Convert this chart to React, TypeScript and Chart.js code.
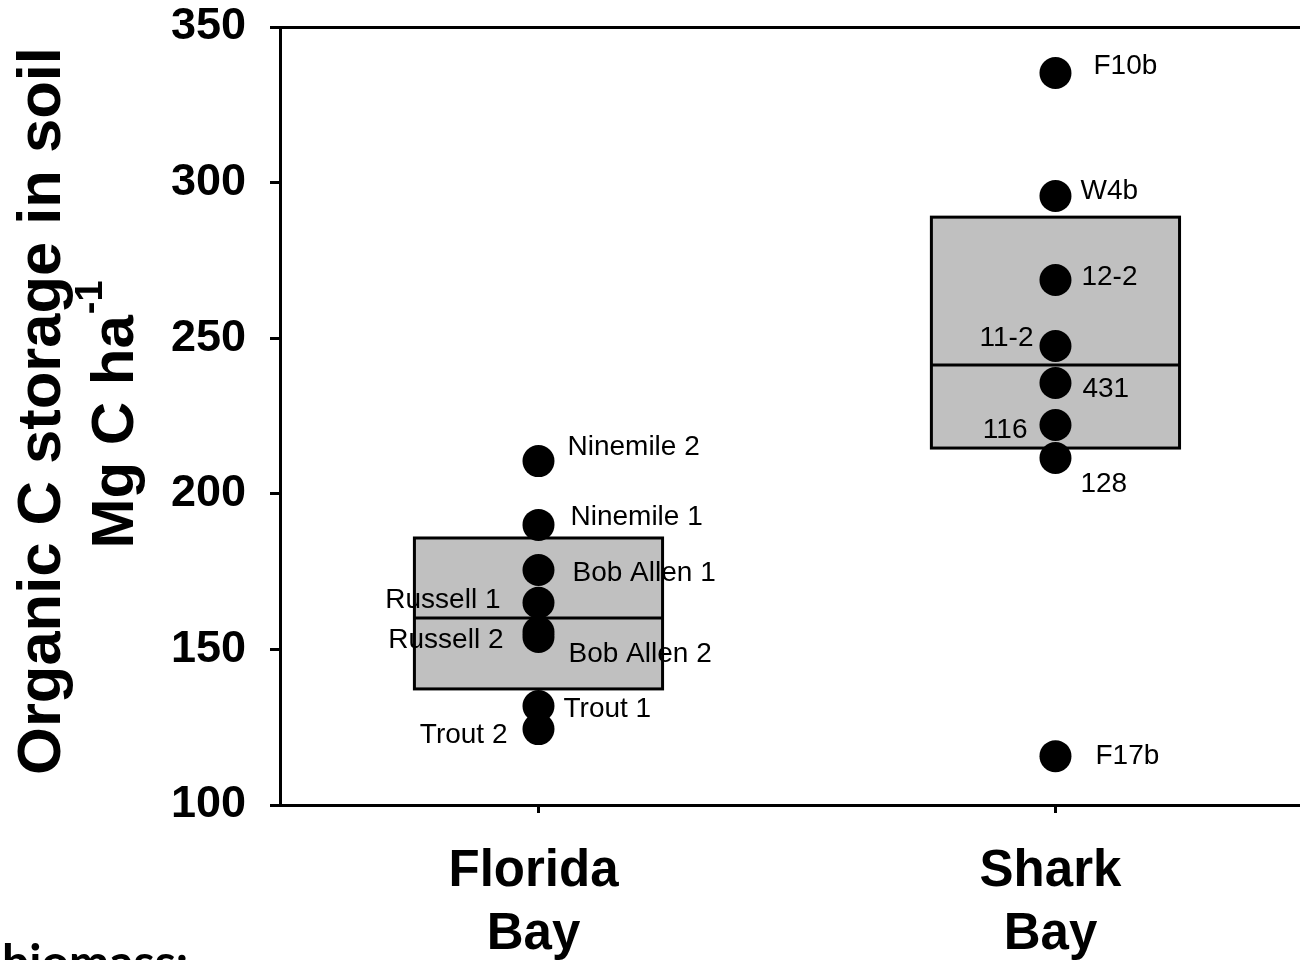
import { useEffect, useRef } from "react";
import { Chart, registerables } from "chart.js";

Chart.register(...registerables);

// Categories on the x axis (two-line labels)
const categories = [
  ["Florida", "Bay"],
  ["Shark", "Bay"],
];
const yTicks = [100, 150, 200, 250, 300, 350];

// Soil organic C storage per site (Mg C ha-1)
const floridaSites = ["Ninemile 2", "Ninemile 1", "Bob Allen 1", "Russell 1", "Russell 2", "Bob Allen 2", "Trout 1", "Trout 2"];
const floridaCarbon = [210.5, 190.0, 175.5, 165.0, 155.6, 154.0, 131.8, 124.4];
const sharkSites = ["F10b", "W4b", "12-2", "11-2", "431", "116", "128", "F17b"];
const sharkCarbon = [335.2, 295.7, 268.7, 247.5, 235.6, 222.1, 211.5, 115.7];

// Box statistics: lower quartile, median, upper quartile
const floridaBox = [137.3, 160.1, 185.8];
const sharkBox = [214.7, 241.4, 288.9];

// Where each site name sits relative to its point: [dx, dy, textAlign]
const floridaLabelPlacement: [number, number, CanvasTextAlign][] = [
  [29, -14, "left"],
  [32, -8, "left"],
  [34, 3, "left"],
  [-38, -2, "right"],
  [-35, 8, "right"],
  [30, 17, "left"],
  [25, 3, "left"],
  [-31, 6, "right"],
];
const sharkLabelPlacement: [number, number, CanvasTextAlign][] = [
  [38, -7, "left"],
  [25, -5, "left"],
  [26, -3, "left"],
  [-22, -8, "right"],
  [27, 6, "left"],
  [-28, 5, "right"],
  [25, 26, "left"],
  [40, 0, "left"],
];

const FONT = "'Liberation Sans', Arial, sans-serif";

const annotationsPlugin = {
  id: "boxesAndLabels",
  beforeDatasetsDraw(chart: any) {
    const { ctx, scales } = chart;
    const x = scales.x;
    const y = scales.y;
    const half = (x.getPixelForValue(1) - x.getPixelForValue(0)) * 0.24;
    ctx.save();
    [floridaBox, sharkBox].forEach((b, i) => {
      const cx = x.getPixelForValue(i);
      const top = y.getPixelForValue(b[2]);
      const bottom = y.getPixelForValue(b[0]);
      const med = y.getPixelForValue(b[1]);
      ctx.fillStyle = "#c0c0c0";
      ctx.fillRect(cx - half, top, 2 * half, bottom - top);
      ctx.lineWidth = 3;
      ctx.strokeStyle = "#000";
      ctx.strokeRect(cx - half, top, 2 * half, bottom - top);
      ctx.beginPath();
      ctx.moveTo(cx - half, med);
      ctx.lineTo(cx + half, med);
      ctx.stroke();
    });
    ctx.restore();
  },
  afterDatasetsDraw(chart: any) {
    const { ctx, scales } = chart;
    const x = scales.x;
    const y = scales.y;
    ctx.save();
    ctx.font = `28px ${FONT}`;
    ctx.fillStyle = "#000";
    ctx.textBaseline = "middle";
    const groups: [string[], number[], [number, number, CanvasTextAlign][]][] = [
      [floridaSites, floridaCarbon, floridaLabelPlacement],
      [sharkSites, sharkCarbon, sharkLabelPlacement],
    ];
    groups.forEach(([names, values, place], gi) => {
      const px = x.getPixelForValue(gi);
      names.forEach((name, i) => {
        const py = y.getPixelForValue(values[i]);
        const [dx, dy, align] = place[i];
        ctx.textAlign = align;
        ctx.fillText(name, px + dx, py + dy);
      });
    });
    ctx.restore();
  },
  afterDraw(chart: any) {
    const { ctx } = chart;
    const midY = 413;
    ctx.save();
    ctx.fillStyle = "#000";
    // y axis title, line 1
    ctx.save();
    ctx.translate(60, midY - 2);
    ctx.rotate(-Math.PI / 2);
    ctx.font = `bold 61.5px ${FONT}`;
    ctx.textAlign = "center";
    ctx.textBaseline = "alphabetic";
    ctx.fillText("Organic C storage in soil", 0, 0);
    ctx.restore();
    // y axis title, line 2 with superscript
    ctx.save();
    ctx.translate(133, midY + 2);
    ctx.rotate(-Math.PI / 2);
    ctx.textBaseline = "alphabetic";
    ctx.textAlign = "left";
    ctx.font = `bold 60px ${FONT}`;
    const main = "Mg C ha";
    const w1 = ctx.measureText(main).width;
    ctx.font = `bold 38px ${FONT}`;
    const sup = "-1";
    const w2 = ctx.measureText(sup).width;
    const start = -(w1 + w2) / 2;
    ctx.font = `bold 60px ${FONT}`;
    ctx.fillText(main, start, 0);
    ctx.font = `bold 38px ${FONT}`;
    ctx.fillText(sup, start + w1 + 1, -31);
    ctx.restore();
    // caption running off the bottom edge
    ctx.font = `bold 48px Lato, 'Open Sans', sans-serif`;
    ctx.textAlign = "left";
    ctx.textBaseline = "alphabetic";
    ctx.fillText("biomass:", 2, 979);
    ctx.restore();
  },
};

export default function App() {
  const canvasRef = useRef<HTMLCanvasElement | null>(null);

  useEffect(() => {
    const canvas = canvasRef.current;
    if (!canvas) return;
    const chart = new Chart(canvas, {
      type: "scatter",
      data: {
        datasets: [
          {
            data: floridaCarbon.map((v) => ({ x: 0, y: v })),
            backgroundColor: "#000",
            borderWidth: 0,
            pointRadius: 16,
          },
          {
            data: sharkCarbon.map((v) => ({ x: 1, y: v })),
            backgroundColor: "#000",
            borderWidth: 0,
            pointRadius: 16,
          },
        ],
      },
      options: {
        animation: false,
        responsive: false,
        events: [],
        layout: { autoPadding: false, padding: { top: 27, left: 0, right: 0, bottom: 0 } },
        plugins: {
          legend: { display: false },
          tooltip: { enabled: false },
        },
        scales: {
          x: {
            type: "linear",
            min: -0.5,
            max: 1.473,
            afterBuildTicks: (s: any) => {
              s.ticks = categories.map((_, i) => ({ value: i }));
            },
            afterFit: (s: any) => {
              s.height = 155;
              s.paddingLeft = 0;
              s.paddingRight = 0;
              s.paddingTop = 0;
              s.paddingBottom = 0;
            },
            ticks: {
              callback: (_v: any, i: number) => categories[i] ?? "",
              font: { family: FONT, size: 51, weight: "bold", lineHeight: 1.235 },
              color: "#000",
              padding: 27,
              labelOffset: -5,
              autoSkip: false,
              maxRotation: 0,
            },
            grid: {
              drawOnChartArea: false,
              drawTicks: true,
              tickLength: 8,
              tickWidth: 3,
              tickColor: "#000",
            },
            border: { display: true, color: "#000", width: 3 },
          },
          y: {
            min: 100,
            max: 350,
            afterBuildTicks: (s: any) => {
              s.ticks = yTicks.map((v) => ({ value: v }));
            },
            afterFit: (s: any) => {
              s.width = 280;
              s.paddingLeft = 0;
              s.paddingRight = 0;
              s.paddingTop = 0;
              s.paddingBottom = 0;
            },
            ticks: {
              font: { family: FONT, size: 45, weight: "bold" },
              color: "#000",
              padding: 24,
            },
            grid: {
              color: (c: any) => (c.tick && c.tick.value === 350 ? "#000" : "rgba(0,0,0,0)"),
              lineWidth: 3,
              drawTicks: true,
              tickLength: 10,
              tickWidth: 3,
              tickColor: "#000",
            },
            border: { display: true, color: "#000", width: 3 },
          },
        },
      },
      plugins: [annotationsPlugin],
    });
    return () => chart.destroy();
  }, []);

  return (
    <div style={{ position: "absolute", left: 0, top: 0, width: 1300, height: 960, overflow: "hidden", background: "#fff" }}>
      <canvas ref={canvasRef} width={1300} height={960} style={{ width: 1300, height: 960, display: "block" }} />
    </div>
  );
}
